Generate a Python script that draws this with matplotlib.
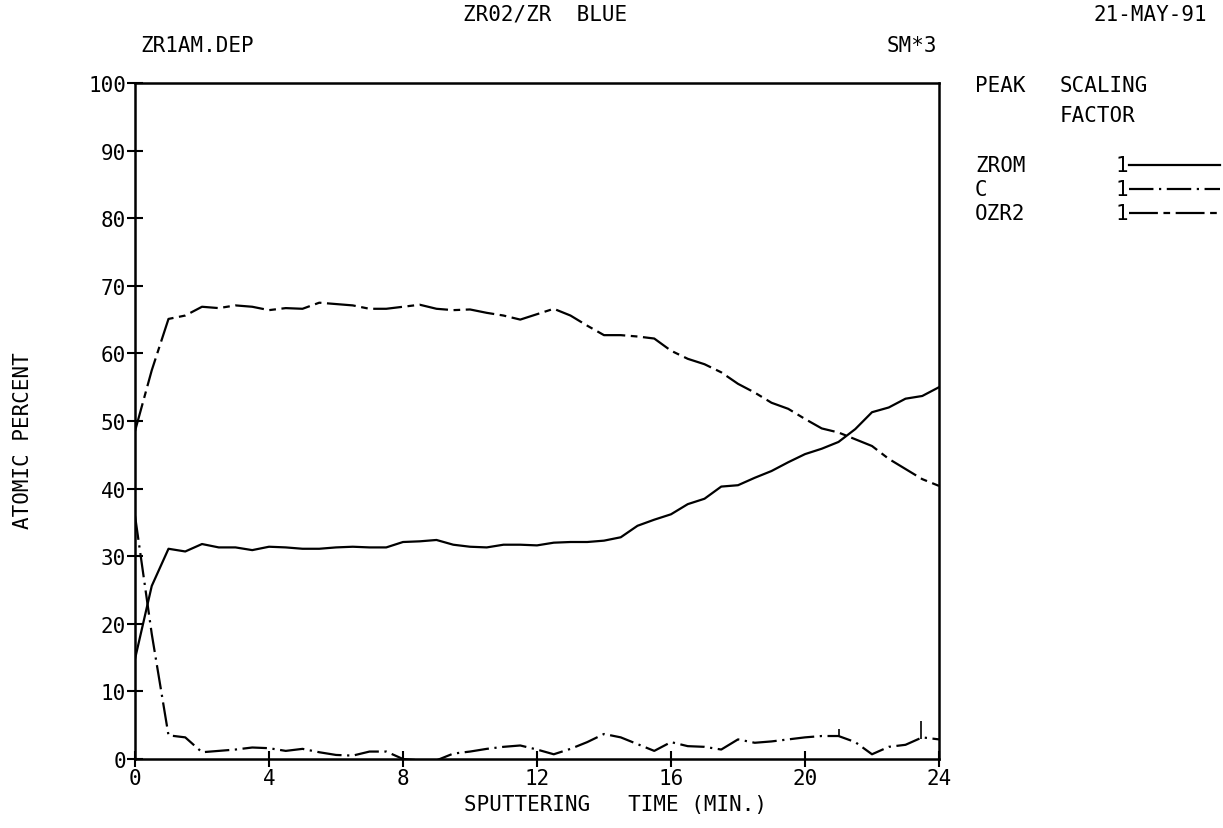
import matplotlib
matplotlib.use("Agg")
import matplotlib.pyplot as plt
import numpy as np

# ---- data ----
time_min = [0, 0.5, 1.0, 1.5, 2.0, 2.5, 3.0, 3.5, 4.0, 4.5, 5.0, 5.5, 6.0, 6.5,
            7.0, 7.5, 8.0, 8.5, 9.0, 9.5, 10.0, 10.5, 11.0, 11.5, 12.0, 12.5,
            13.0, 13.5, 14.0, 14.5, 15.0, 15.5, 16.0, 16.5, 17.0, 17.5, 18.0,
            18.5, 19.0, 19.5, 20.0, 20.5, 21.0, 21.5, 22.0, 22.5, 23.0, 23.5, 24.0]

zrom = [14.8, 25.6, 31.1, 30.7, 31.8, 31.3, 31.3, 30.9, 31.4, 31.3, 31.1, 31.1,
        31.3, 31.4, 31.3, 31.3, 32.1, 32.2, 32.4, 31.7, 31.4, 31.3, 31.7, 31.7,
        31.6, 32.0, 32.1, 32.1, 32.3, 32.8, 34.5, 35.4, 36.2, 37.7, 38.5, 40.3,
        40.5, 41.6, 42.6, 43.9, 45.1, 45.9, 46.9, 48.8, 51.3, 52.0, 53.3, 53.7, 55.0]

carbon = [36.0, 18.5, 3.5, 3.2, 1.0, 1.2, 1.4, 1.7, 1.6, 1.2, 1.5, 1.0, 0.6, 0.5,
          1.1, 1.1, 0.0, -0.2, -0.2, 0.8, 1.1, 1.5, 1.8, 2.0, 1.4, 0.7, 1.5, 2.5,
          3.7, 3.2, 2.2, 1.2, 2.5, 1.9, 1.8, 1.4, 2.9, 2.4, 2.6, 2.9, 3.2, 3.4,
          3.4, 2.5, 0.7, 1.8, 2.1, 3.2, 2.9]

ozr2 = [48.5, 57.5, 65.1, 65.6, 66.9, 66.7, 67.1, 66.9, 66.4, 66.7, 66.6, 67.5,
        67.3, 67.1, 66.6, 66.6, 66.9, 67.2, 66.6, 66.4, 66.5, 66.0, 65.6, 65.0,
        65.8, 66.6, 65.6, 64.1, 62.7, 62.7, 62.5, 62.2, 60.4, 59.2, 58.4, 57.2,
        55.5, 54.2, 52.7, 51.8, 50.3, 48.9, 48.3, 47.3, 46.3, 44.4, 42.9, 41.4, 40.4]

c_spike_x = [21.0, 23.45]
c_spike_low = [3.2, 3.0]
c_spike_high = [4.5, 5.6]

x_ticks = [0, 4, 8, 12, 16, 20, 24]
y_ticks = [0, 10, 20, 30, 40, 50, 60, 70, 80, 90, 100]

peaks = ["ZROM", "C", "OZR2"]
factors = ["1", "1", "1"]

# ---- figure ----
W, H = 1223, 829
plt.rcParams['font.family'] = ['DejaVu Sans Mono']
fig = plt.figure(figsize=(W / 100, H / 100), dpi=100)

FS = 15

x0, x1 = 135, 939
y0, y1 = 760, 84
ax = fig.add_axes([x0 / W, 1 - y0 / H, (x1 - x0) / W, (y0 - y1) / H])

lw = 1.6
styles = {
    "ZROM": "-",
    "C": (0, (11, 2.5, 1, 2.5)),
    "OZR2": (0, (13, 2.5, 3, 2.5)),
}
ax.plot(time_min, zrom, color="black", lw=lw, linestyle=styles["ZROM"])
ax.plot(time_min, carbon, color="black", lw=lw, linestyle=styles["C"])
ax.plot(time_min, ozr2, color="black", lw=lw, linestyle=styles["OZR2"])
ax.vlines(c_spike_x, c_spike_low, c_spike_high, color="black", lw=1.2)

ax.set_xlim(0, 24)
ax.set_ylim(0, 100)
ax.set_xticks(x_ticks)
ax.set_yticks(y_ticks)
ax.set_xticklabels([str(v) for v in x_ticks])
ax.set_yticklabels([str(v) for v in y_ticks])
ax.tick_params(direction="inout", length=11, width=1.5, labelsize=FS, pad=1)
for s in ax.spines.values():
    s.set_linewidth(1.8)

# axis labels
fig.text(615 / W, 1 - 805 / H, "SPUTTERING   TIME (MIN.)", ha="center", va="center",
         fontsize=FS)
fig.text(23 / W, 1 - 441 / H, "ATOMIC PERCENT", rotation=90, ha="center", va="center",
         fontsize=FS)

# header texts
fig.text(545 / W, 1 - 15 / H, "ZR02/ZR  BLUE", ha="center", va="center", fontsize=FS)
fig.text(1207 / W, 1 - 15 / H, "21-MAY-91", ha="right", va="center", fontsize=FS)
fig.text(140 / W, 1 - 46 / H, "ZR1AM.DEP", ha="left", va="center", fontsize=FS)
fig.text(937 / W, 1 - 46 / H, "SM*3", ha="right", va="center", fontsize=FS)

# legend block
fig.text(975 / W, 1 - 86 / H, "PEAK", ha="left", va="center", fontsize=FS)
fig.text(1060 / W, 1 - 86 / H, "SCALING", ha="left", va="center", fontsize=FS)
fig.text(1060 / W, 1 - 116 / H, "FACTOR", ha="left", va="center", fontsize=FS)
leg_y = [166, 190, 214]
for name, fac, yy in zip(peaks, factors, leg_y):
    fig.text(975 / W, 1 - yy / H, name, ha="left", va="center", fontsize=FS)
    fig.text(1128 / W, 1 - yy / H, fac, ha="right", va="center", fontsize=FS)
    fig.add_artist(plt.Line2D([1129 / W, 1220 / W], [1 - yy / H, 1 - yy / H],
                              color="black", lw=lw, linestyle=styles[name]))

fig.savefig("out.png", dpi=100)
